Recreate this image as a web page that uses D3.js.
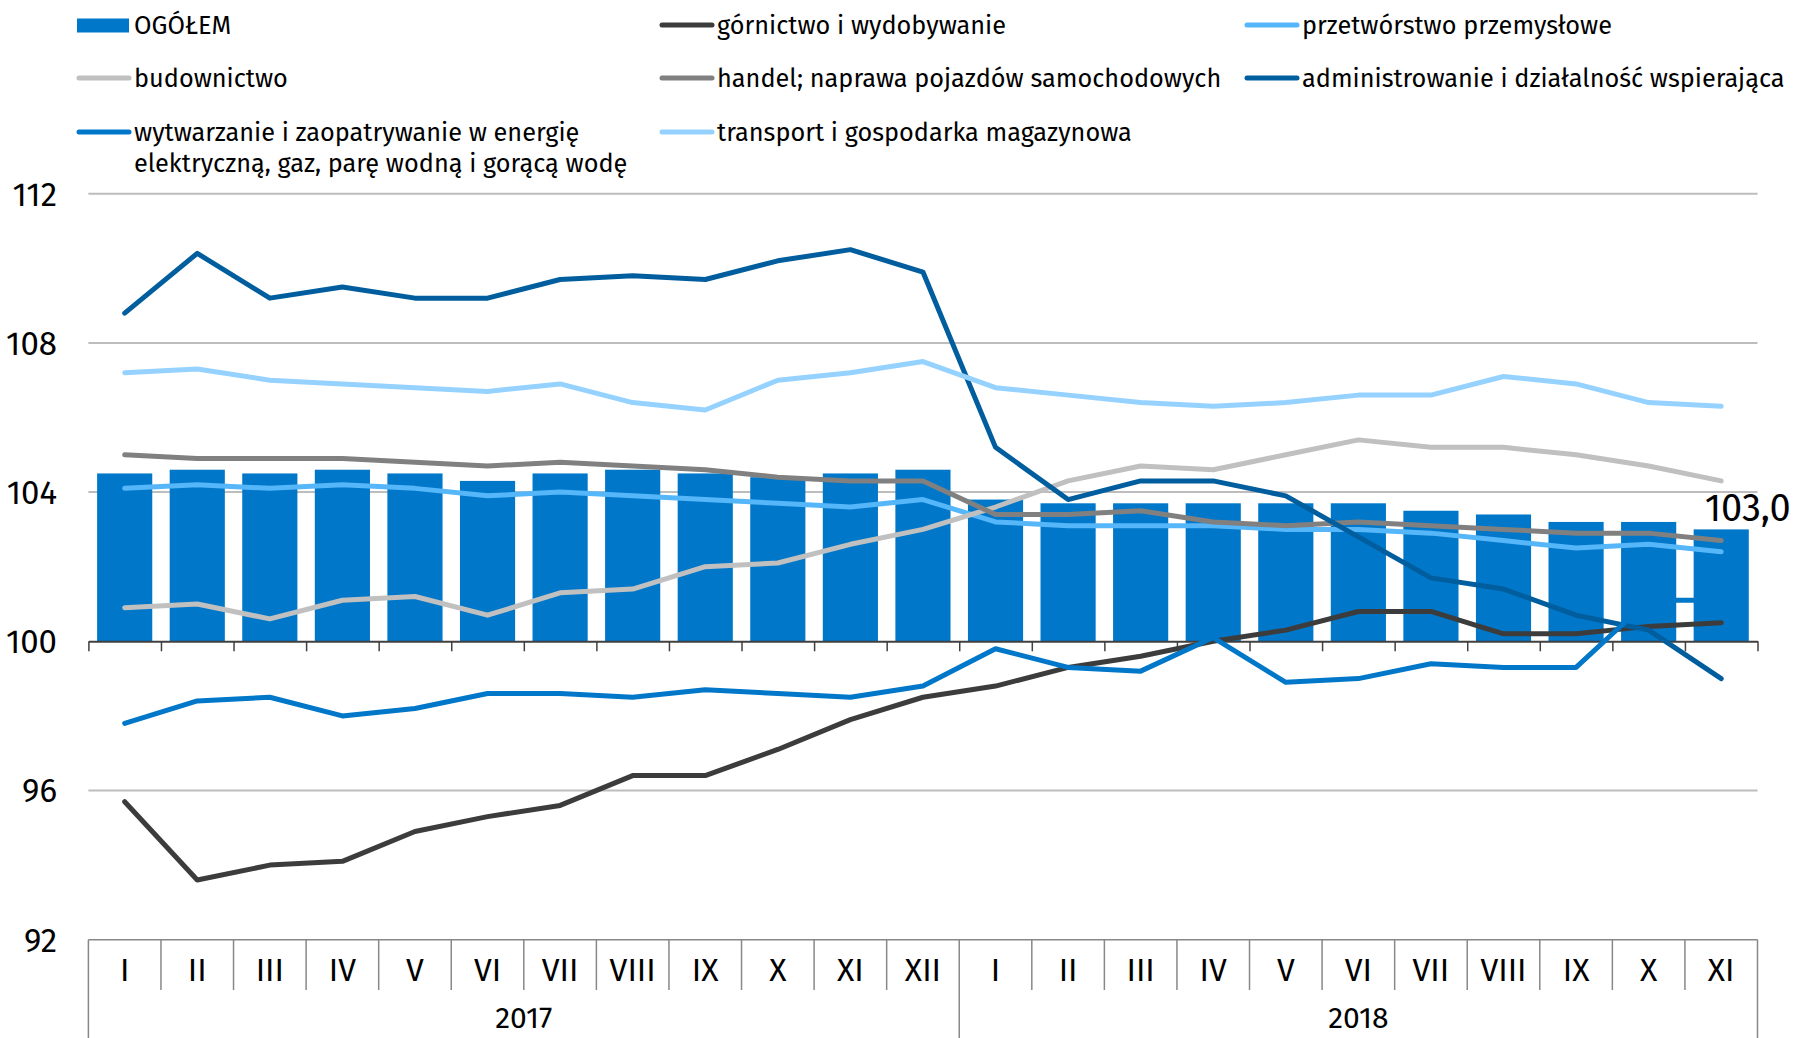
<!DOCTYPE html>
<html>
<head>
<meta charset="utf-8">
<script src="https://cdn.jsdelivr.net/npm/d3@7"></script>
<style>
	body { margin: 0; background: #fff; }
	svg { display: block; }
	text { font-family: "Fira Sans", "Noto Sans", sans-serif; fill: #000; }
</style>
</head>
<body>
<div id="chart"></div>
<script>
/*global d3*/

//month labels and the year groups under them
var months = ["I","II","III","IV","V","VI","VII","VIII","IX","X","XI","XII",
	"I","II","III","IV","V","VI","VII","VIII","IX","X","XI"];
var years = ["2017", "2018"];
var yearSpans = [12, 11];

//y axis ticks
var yTicks = [92, 96, 100, 104, 108, 112];

//OGÓŁEM (bars)
var ogolem = [104.5,104.6,104.5,104.6,104.5,104.3,104.5,104.6,104.5,104.4,104.5,104.6,
	103.8,103.7,103.7,103.7,103.7,103.7,103.5,103.4,103.2,103.2,103.0];

//lines
var gornictwo = [95.7,93.6,94.0,94.1,94.9,95.3,95.6,96.4,96.4,97.1,97.9,98.5,
	98.8,99.3,99.6,100.0,100.3,100.8,100.8,100.2,100.2,100.4,100.5];
var przetworstwo = [104.1,104.2,104.1,104.2,104.1,103.9,104.0,103.9,103.8,103.7,103.6,103.8,
	103.2,103.1,103.1,103.1,103.0,103.0,102.9,102.7,102.5,102.6,102.4];
var budownictwo = [100.9,101.0,100.6,101.1,101.2,100.7,101.3,101.4,102.0,102.1,102.6,103.0,
	103.6,104.3,104.7,104.6,105.0,105.4,105.2,105.2,105.0,104.7,104.3];
var handel = [105.0,104.9,104.9,104.9,104.8,104.7,104.8,104.7,104.6,104.4,104.3,104.3,
	103.4,103.4,103.5,103.2,103.1,103.2,103.1,103.0,102.9,102.9,102.7];
var administrowanie = [108.8,110.4,109.2,109.5,109.2,109.2,109.7,109.8,109.7,110.2,110.5,109.9,
	105.2,103.8,104.3,104.3,103.9,102.8,101.7,101.4,100.7,100.3,99.0];
var wytwarzanie = [97.8,98.4,98.5,98.0,98.2,98.6,98.6,98.5,98.7,98.6,98.5,98.8,
	99.8,99.3,99.2,100.1,98.9,99.0,99.4,99.3,99.3,101.1,101.1];
var transport = [107.2,107.3,107.0,106.9,106.8,106.7,106.9,106.4,106.2,107.0,107.2,107.5,
	106.8,106.6,106.4,106.3,106.4,106.6,106.6,107.1,106.9,106.4,106.3];

var barName = "OGÓŁEM";
var lastLabel = "103,0";

var seriesNames = ["górnictwo i wydobywanie", "przetwórstwo przemysłowe", "budownictwo",
	"handel; naprawa pojazdów samochodowych", "administrowanie i działalność wspierająca",
	"wytwarzanie i zaopatrywanie w energię\nelektryczną, gaz, parę wodną i gorącą wodę",
	"transport i gospodarka magazynowa"];
var seriesValues = [gornictwo, przetworstwo, budownictwo, handel, administrowanie, wytwarzanie, transport];
var seriesColors = ["#3c3c3c", "#55b6f9", "#c0c0c0", "#808080", "#005e9e", "#0077c8", "#96d2ff"];
var barColor = "#0077c8";

function drawChart(){
	var width = 1794;
	var height = 1038;
	var left = 88.4;
	var right = 1757.5;

	var svg = d3.select("#chart").append("svg")
		.attr("width", width)
		.attr("height", height);

	//scales
	var y = d3.scaleLinear().domain([92, 112]).range([939.7, 193.7]);
	var x = d3.scaleBand().domain(d3.range(months.length))
		.range([left, right])
		.paddingInner(0.24)
		.paddingOuter(0.12);
	var step = x.step();
	function cx(i){ return x(i) + x.bandwidth()/2; }

	//gridlines behind everything
	var grid = svg.append("g").attr("class", "grid");
	grid.selectAll("line").data(yTicks.filter(function(d){ return d !== 92 && d !== 100; }))
		.enter().append("line")
		.attr("x1", left)
		.attr("x2", right)
		.attr("y1", function(d){ return y(d); })
		.attr("y2", function(d){ return y(d); })
		.attr("stroke", "#bdbdbd")
		.attr("stroke-width", 2);

	//y labels
	svg.append("g").selectAll("text").data(yTicks).enter().append("text")
		.attr("x", 57)
		.attr("y", function(d){ return y(d); })
		.attr("dy", "0.36em")
		.attr("text-anchor", "end")
		.style("font-size", "33px")
		.text(function(d){ return d; });

	//bars
	svg.append("g").attr("class", "bars")
		.selectAll("rect").data(ogolem).enter().append("rect")
		.attr("x", function(d, i){ return x(i); })
		.attr("y", function(d){ return y(d); })
		.attr("width", x.bandwidth())
		.attr("height", function(d){ return y(100) - y(d); })
		.attr("fill", barColor);

	//axis at 100 with small ticks down
	var axis = d3.axisBottom(d3.scaleLinear().domain([0, months.length]).range([left, right]))
		.tickValues(d3.range(months.length + 1))
		.tickSizeInner(10)
		.tickSizeOuter(0)
		.tickFormat("");
	var axisG = svg.append("g")
		.attr("transform", "translate(0," + y(100) + ")")
		.call(axis);
	axisG.select(".domain").attr("stroke", "#404040").attr("stroke-width", 2);
	axisG.selectAll(".tick line").attr("stroke", "#404040").attr("stroke-width", 1.5);

	//lines
	var line = d3.line()
		.x(function(d, i){ return cx(i); })
		.y(function(d){ return y(d); });
	var lines = svg.append("g").attr("class", "lines");
	lines.selectAll("path").data(seriesValues).enter().append("path")
		.attr("d", function(d){ return line(d); })
		.attr("fill", "none")
		.attr("stroke", function(d, i){ return seriesColors[i]; })
		.attr("stroke-width", 5)
		.attr("stroke-linejoin", "round")
		.attr("stroke-linecap", "round");

	//value label for last bar
	var last = ogolem.length - 1;
	svg.append("text")
		.attr("x", x(last) + 11)
		.attr("y", y(ogolem[last]) - 8)
		.style("font-size", "38px")
		.text(lastLabel);

	//category table at the bottom
	var tableTop = y(92);
	var table = svg.append("g").attr("class", "table");
	table.append("line")
		.attr("x1", left).attr("x2", right)
		.attr("y1", tableTop).attr("y2", tableTop)
		.attr("stroke", "#888").attr("stroke-width", 1.5);

	var bounds = d3.range(months.length + 1);
	var yearBounds = [0];
	yearSpans.forEach(function(s){ yearBounds.push(yearBounds[yearBounds.length-1] + s); });

	table.selectAll("line.sep").data(bounds).enter().append("line")
		.attr("class", "sep")
		.attr("x1", function(d){ return left + d*step; })
		.attr("x2", function(d){ return left + d*step; })
		.attr("y1", tableTop)
		.attr("y2", function(d){ return yearBounds.indexOf(d) >= 0 ? height : 990; })
		.attr("stroke", "#888")
		.attr("stroke-width", 1.5);

	table.selectAll("text.month").data(months).enter().append("text")
		.attr("class", "month")
		.attr("x", function(d, i){ return cx(i); })
		.attr("y", 969)
		.attr("dy", "0.36em")
		.attr("text-anchor", "middle")
		.style("font-size", "32px")
		.text(function(d){ return d; });

	//years sit low, keep them just inside the bottom edge
	table.selectAll("text.year").data(years).enter().append("text")
		.attr("class", "year")
		.attr("x", function(d, i){ return left + (yearBounds[i] + yearBounds[i+1])/2*step; })
		.attr("y", 1017)
		.attr("dy", "0.36em")
		.attr("text-anchor", "middle")
		.style("font-size", "30px")
		.text(function(d){ return d; });

	//legend, three columns
	var colX = [77, 660, 1245];
	var rowY = [25, 78, 132];
	var legend = svg.append("g").attr("class", "legend");

	var items = [{name: barName, bar: true}];
	seriesNames.forEach(function(n, i){ items.push({name: n, color: seriesColors[i]}); });

	items.forEach(function(it, k){
		var lx = colX[k % 3];
		var ly = rowY[Math.floor(k / 3)];
		if(it.bar){
			legend.append("rect")
				.attr("x", lx).attr("y", ly - 6.5)
				.attr("width", 52).attr("height", 14)
				.attr("fill", barColor);
		}
		else{
			legend.append("line")
				.attr("x1", lx + 2).attr("x2", lx + 52)
				.attr("y1", ly).attr("y2", ly)
				.attr("stroke", it.color)
				.attr("stroke-width", 5)
				.attr("stroke-linecap", "round");
		}
		var t = legend.append("text")
			.attr("x", lx + 57)
			.attr("y", ly)
			.style("font-size", "25.3px");
		it.name.split("\n").forEach(function(part, j){
			t.append("tspan")
				.attr("x", lx + 57)
				.attr("dy", j === 0 ? "0.36em" : "1.22em")
				.text(part);
		});
	});
}

drawChart();
</script>
</body>
</html>
